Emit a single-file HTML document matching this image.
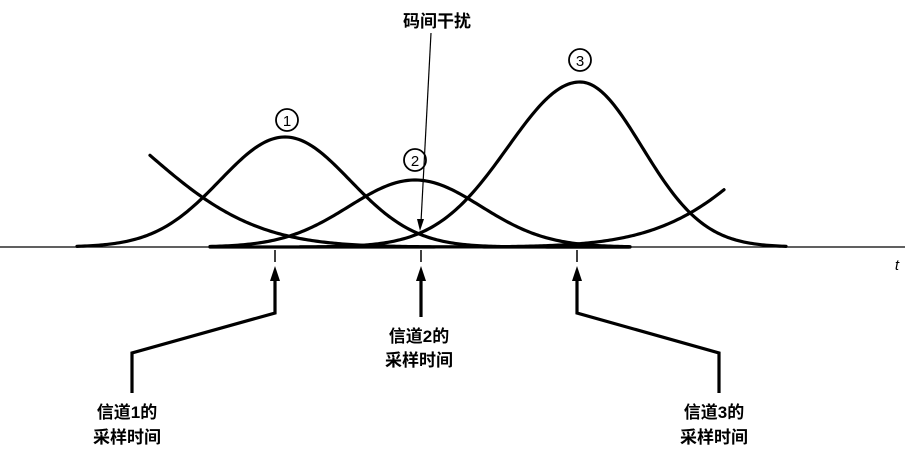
<!DOCTYPE html>
<html><head><meta charset="utf-8"><style>
html,body{margin:0;padding:0;background:#fff;}
svg{display:block;}
text{font-family:"Liberation Sans","Noto Sans CJK SC",sans-serif;font-weight:bold;fill:#000;}
</style></head><body>
<svg id="s" width="911" height="453" viewBox="0 0 911 453" xmlns="http://www.w3.org/2000/svg">
<line x1="0" y1="247" x2="905" y2="247" stroke="#000" stroke-width="1.3"/>
<g id="curves" fill="none" stroke="#000" stroke-width="3.2" stroke-linecap="round"></g>
<g stroke="#000" stroke-width="1.5">
<line x1="275" y1="250" x2="275" y2="262"/>
<line x1="421" y1="250" x2="421" y2="262"/>
<line x1="577" y1="250" x2="577" y2="262"/>
</g>
<g fill="none" stroke="#000" stroke-width="3.2">
<polyline points="275,278 275,313 132,353 132,393"/>
<polyline points="421,278 421,317"/>
<polyline points="577,278 577,313 719,353 719,393"/>
</g>
<g fill="#000">
<polygon points="275,266 270,281 280,281"/>
<polygon points="421,266 416,281 426,281"/>
<polygon points="577,266 572,281 582,281"/>
</g>
<line x1="431" y1="33" x2="421" y2="222" stroke="#000" stroke-width="1.2"/>
<polygon points="420,231 417,219 424,219" fill="#000"/>
<g fill="none" stroke="#000" stroke-width="1.8">
<circle cx="287" cy="120" r="11"/>
<circle cx="415" cy="160" r="11"/>
<circle cx="580" cy="60" r="11"/>
</g>
<g font-size="15" text-anchor="middle">
<text x="287" y="126" style="font-weight:normal">1</text>
<text x="415" y="166" style="font-weight:normal">2</text>
<text x="580" y="66" style="font-weight:normal">3</text>
</g>
<text x="437" y="27" font-size="17" text-anchor="middle">码间干扰</text>
<text x="897" y="270" font-size="15" style="font-style:italic;font-weight:normal" text-anchor="middle">t</text>
<g font-size="17" text-anchor="middle">
<text x="127" y="418">信道1的</text>
<text x="127" y="443">采样时间</text>
<text x="419" y="342">信道2的</text>
<text x="419" y="366">采样时间</text>
<text x="714" y="418">信道3的</text>
<text x="714" y="443">采样时间</text>
</g>
</svg>
<script>
var g=document.getElementById('curves');
function add(c,A,sl,sr,x0,x1){var d='';for(var x=x0;x<=x1;x+=2){var s=x<c?sl:sr;var y=247-A*Math.exp(-(x-c)*(x-c)/(2*s*s));d+=(x==x0?'M':'L')+x+','+y.toFixed(2);}
var p=document.createElementNS('http://www.w3.org/2000/svg','path');p.setAttribute('d',d);g.appendChild(p);}
add(285,110,65,65,77,630);
add(40,154,108,108,150,630);
add(415,67,66,66,210,630);
add(900,197,112,112,210,724);
add(580,165,72,62,300,787);
</script>
</body></html>
